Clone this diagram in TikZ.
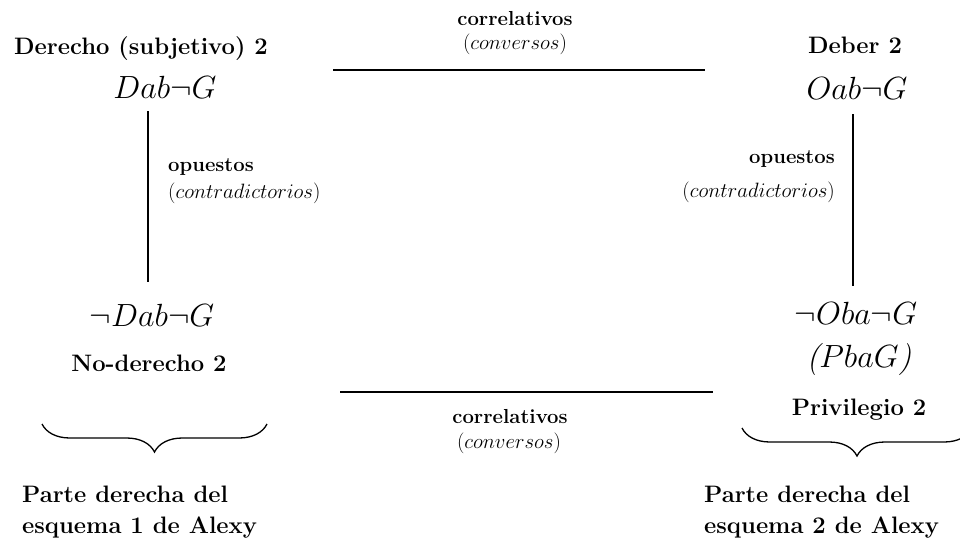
\documentclass[tikz,border=0pt]{standalone}
\usepackage{graphicx}
\usetikzlibrary{decorations.pathreplacing}
\newcommand{\frm}[1]{\scalebox{1.29}{$#1$}}
\begin{document}
\begin{tikzpicture}[x=1pt,y=-1pt,
  big/.style={font=\fontsize{23.8}{28}\selectfont\bfseries, inner sep=0pt, anchor=base},
  lbl/.style={font=\fontsize{20.3}{24}\selectfont\bfseries, inner sep=0pt, anchor=base},
  ital/.style={font=\fontsize{20.8}{24}\selectfont, inner sep=0pt, anchor=base},
  formula/.style={font=\fontsize{24.88}{30}\selectfont, inner sep=0pt, anchor=base},
  rel/.style={line width=1.5pt},
  bracestyle/.style={line width=1.3pt, decorate, decoration={brace, amplitude=28pt}}
]
\path[use as bounding box] (0,0) rectangle (960,546);

% top-left
\node[big] (dtitle) at (141,54) {Derecho (subjetivo) 2};
\node[formula] (dform) at (165,98) {\frm{Dab\neg G}};
% top-right
\node[big] (otitle) at (855,53) {Deber 2};
\node[formula] (oform) at (857,99) {\frm{Oab\neg G}};
% bottom-left
\node[formula] (ndform) at (152,326) {\frm{\neg Dab\neg G}};
\node[big] (ndtitle) at (149,371) {No-derecho 2};
% bottom-right
\node[formula] (noform) at (856,324) {\frm{\neg Oba\neg G}};
\node[formula] (pform) at (859,367) {\frm{\mbox{\itshape(}PbaG\mbox{\itshape)}}};
\node[big] (ptitle) at (859,415) {Privilegio 2};

% top relation
\coordinate (t1) at (333,70);
\coordinate (t2) at (705,70);
\draw[rel] (t1) -- (t2);
\node[lbl] (tcor) at (515,25) {correlativos};
\node[ital] (tconv) at (515,49) {($conversos$)};

% bottom relation
\coordinate (b1) at (340,392);
\coordinate (b2) at (713,392);
\draw[rel] (b1) -- (b2);
\node[lbl] (bcor) at (510,423) {correlativos};
\node[ital] (bconv) at (509,448) {($conversos$)};

% left vertical
\coordinate (l1) at (148,111);
\coordinate (l2) at (148,282);
\draw[rel] (l1) -- (l2);
\node[lbl, anchor=base west] (lop) at (168,171) {opuestos};
\node[ital, anchor=base west] (lcon) at (168,198) {($contradictorios$)};

% right vertical
\coordinate (r1) at (853,114);
\coordinate (r2) at (853,286);
\draw[rel] (r1) -- (r2);
\node[lbl, anchor=base east] (rop) at (835,163) {opuestos};
\node[ital, anchor=base east] (rcon) at (835,197) {($contradictorios$)};

% braces
\coordinate (lb1) at (267,424);
\coordinate (lb2) at (42,424);
\draw[bracestyle] (lb1) -- (lb2);
\coordinate (rb1) at (972,428);
\coordinate (rb2) at (742,428);
\draw[bracestyle] (rb1) -- (rb2);

% bottom captions
\node[big, anchor=base west] (lcap1) at (22,502) {Parte derecha del};
\node[big, anchor=base west] (lcap2) at (22,533) {esquema 1 de Alexy};
\node[big, anchor=base west] (rcap1) at (704,502) {Parte derecha del};
\node[big, anchor=base west] (rcap2) at (704,533) {esquema 2 de Alexy};
\end{tikzpicture}
\end{document}
